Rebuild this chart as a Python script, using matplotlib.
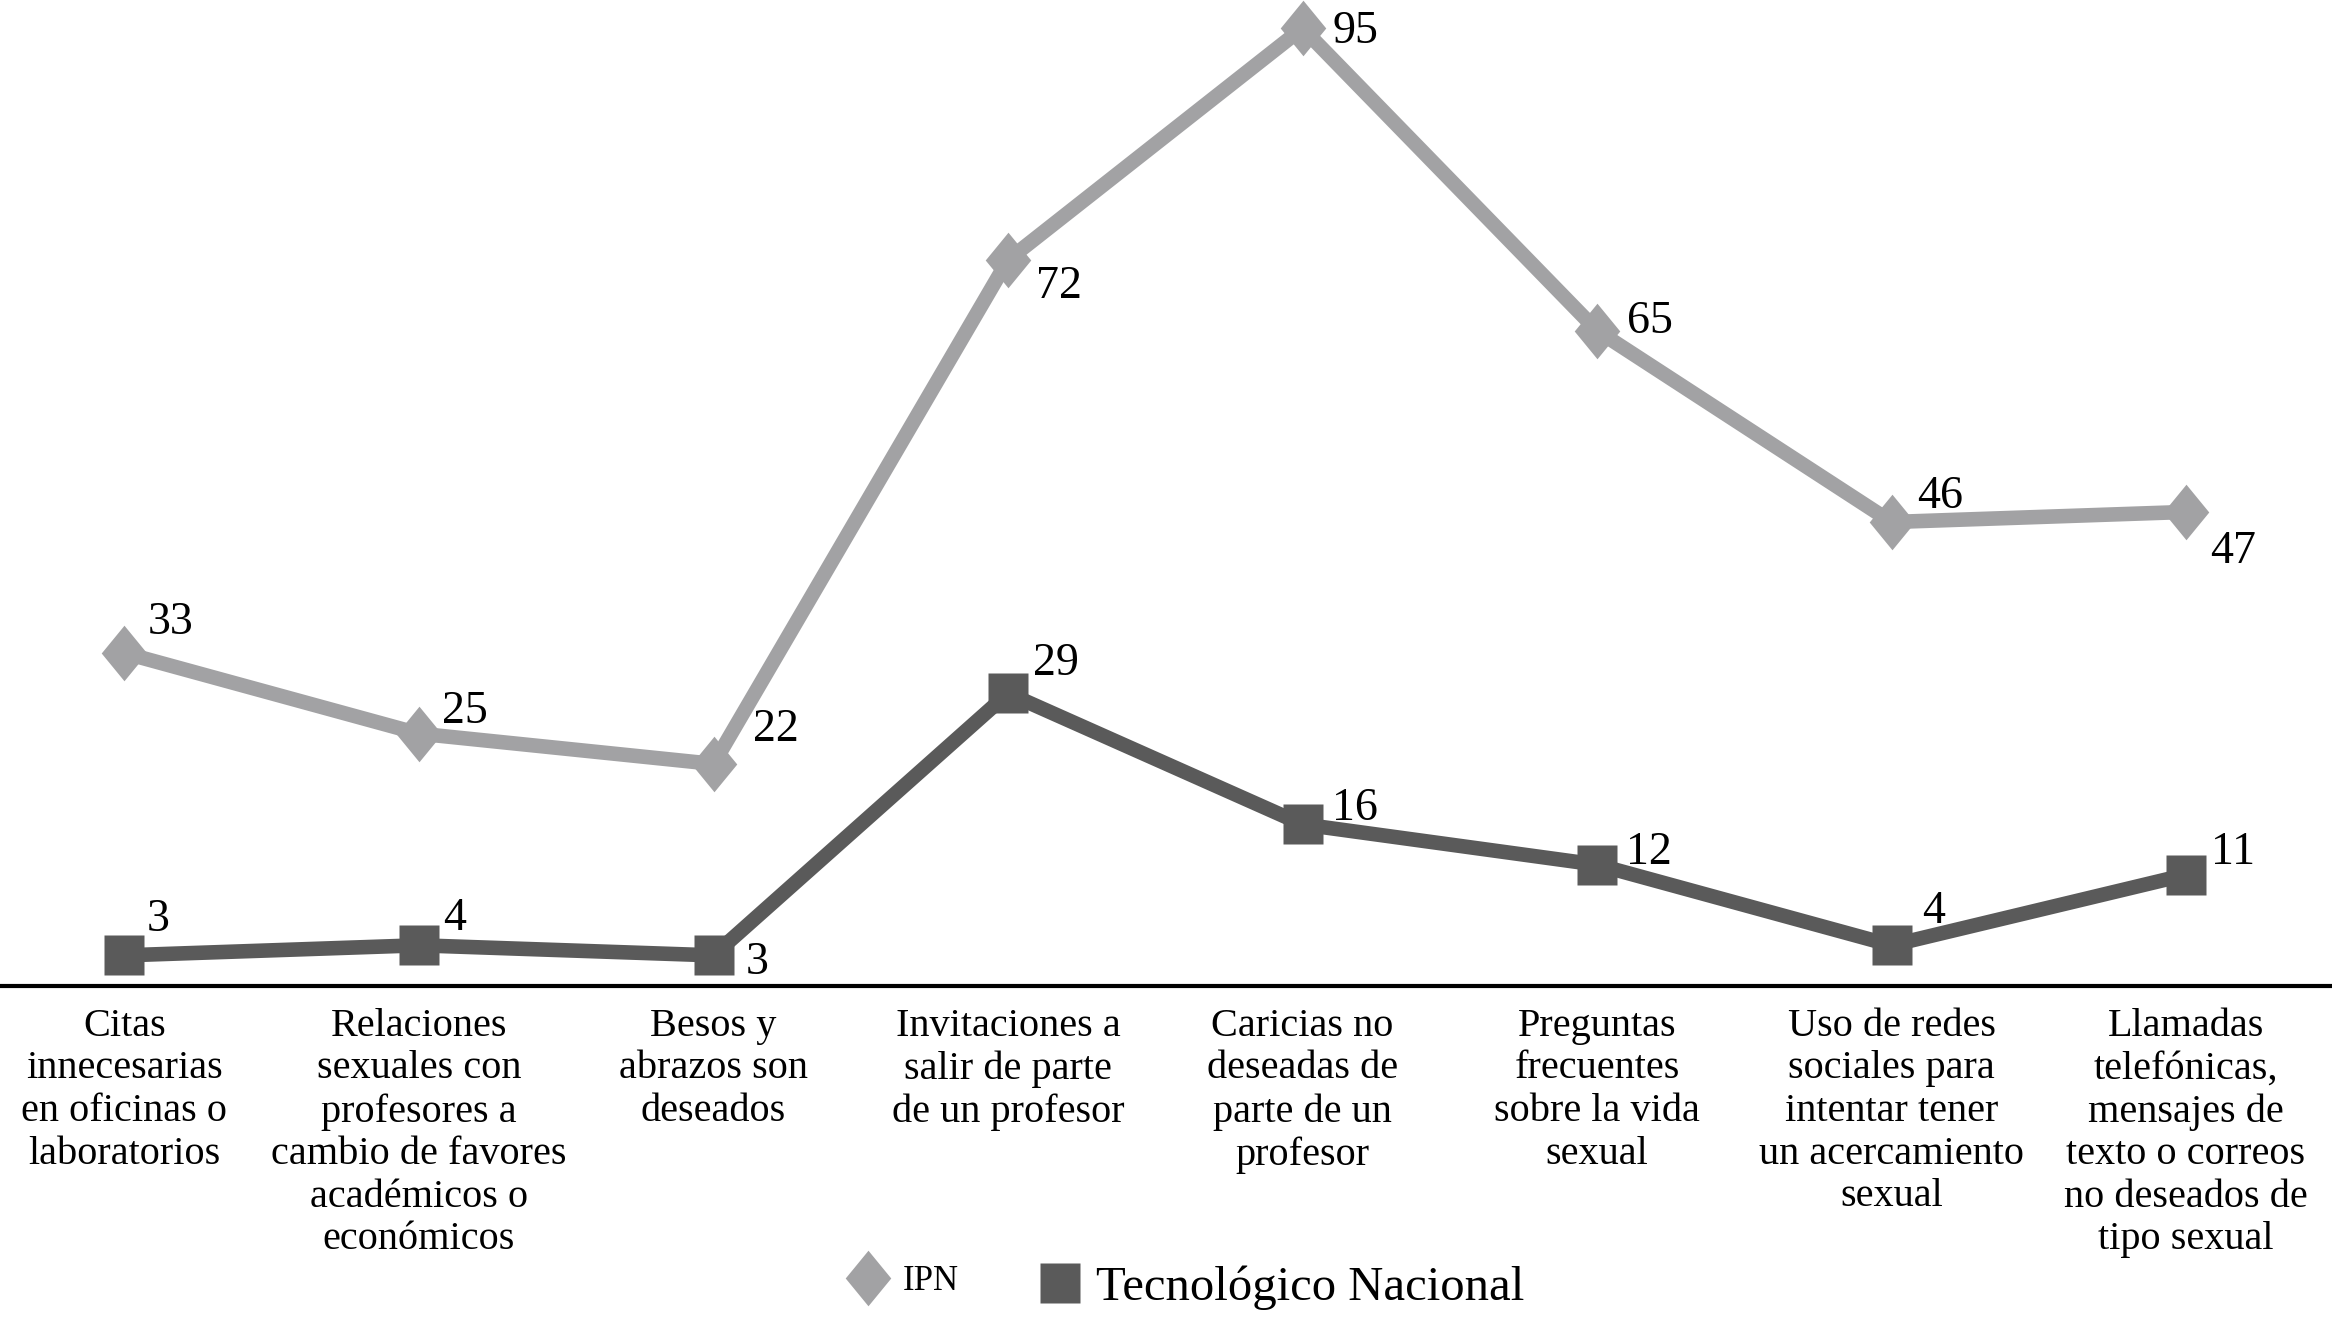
import matplotlib
matplotlib.use("Agg")
import matplotlib.pyplot as plt
from matplotlib.path import Path
from matplotlib.lines import Line2D

# ---- data ----
categories = [
    "Citas\ninnecesarias\nen oficinas o\nlaboratorios",
    "Relaciones\nsexuales con\nprofesores a\ncambio de favores\nacadémicos o\neconómicos",
    "Besos y\nabrazos son\ndeseados",
    "Invitaciones a\nsalir de parte\nde un profesor",
    "Caricias no\ndeseadas de\nparte de un\nprofesor",
    "Preguntas\nfrecuentes\nsobre la vida\nsexual",
    "Uso de redes\nsociales para\nintentar tener\nun acercamiento\nsexual",
    "Llamadas\ntelefónicas,\nmensajes de\ntexto o correos\nno deseados de\ntipo sexual",
]
ipn = [33, 25, 22, 72, 95, 65, 46, 47]
tec = [3, 4, 3, 29, 16, 12, 4, 11]
series_names = ["IPN", "Tecnológico Nacional"]

# ---- label placement (screen pixels, ink centre relative to marker) ----
ipn_off = [(46, -35), (46, -27), (62, -39), (51, 22), (53, -1), (53, -14), (49, -30), (47, 35)]
tec_off = [(34, -40), (36, -31), (44, 3), (48, -34), (52, -20), (52, -17), (42, -38), (47, -27)]

FONT = "Liberation Serif"
plt.rcParams["font.family"] = [FONT, "DejaVu Serif"]

C_IPN = "#A2A2A4"
C_TEC = "#5A5A5A"

diamond = Path([(0, 1), (0.82, 0), (0, -1), (-0.82, 0), (0, 1)],
               [Path.MOVETO, Path.LINETO, Path.LINETO, Path.LINETO, Path.CLOSEPOLY])

W, H = 2332, 1319
fig = plt.figure(figsize=(W / 100, H / 100), dpi=100)
ax = fig.add_axes([0, (H - 985.6) / H, 1, 985.6 / H])

x = list(range(len(categories)))
ax.plot(x, ipn, color=C_IPN, lw=10.5, marker=diamond, ms=40, mec="none",
        mfc=C_IPN, clip_on=False, zorder=3)
ax.plot(x, tec, color=C_TEC, lw=10.5, marker="s", ms=29.5, mec="none",
        mfc=C_TEC, clip_on=False, zorder=3)

ax.set_xlim(-124.5 / 294.5, (W - 124.5) / 294.5)
ax.set_ylim(0, 97.8)

for vals, offs in ((ipn, ipn_off), (tec, tec_off)):
    for xi, v, (dx, dy) in zip(x, vals, offs):
        ax.annotate(str(v), (xi, v), xytext=(dx, -(dy + 16)),
                    textcoords="offset pixels", ha="center", va="baseline",
                    fontsize=33, color="black", annotation_clip=False, zorder=5)

for s in ["top", "left", "right"]:
    ax.spines[s].set_visible(False)
ax.spines["bottom"].set_linewidth(3)
ax.spines["bottom"].set_color("black")
ax.set_yticks([])
ax.set_xticks(x)
ax.set_xticklabels(categories, fontsize=29)
ax.tick_params(axis="x", length=0, pad=16)
for t in ax.get_xticklabels():
    t.set_linespacing(1.2)
ax.patch.set_alpha(0)

# ---- legend ----
h1 = Line2D([], [], marker=diamond, ms=40, color=C_IPN, mec="none", ls="none")
h2 = Line2D([], [], marker="s", ms=29.5, color=C_TEC, mec="none", ls="none")
fig.legend([h1], [series_names[0]], loc="center left",
           bbox_to_anchor=(840 / W, 1 - 1282 / H), frameon=False,
           fontsize=25, handlelength=1.6, handletextpad=0.2,
           borderpad=0, borderaxespad=0)
fig.legend([h2], [series_names[1]], loc="center left",
           bbox_to_anchor=(1035.7 / W, 1 - 1288 / H), frameon=False,
           fontsize=35, handlelength=1.0, handletextpad=0.24,
           borderpad=0, borderaxespad=0)

fig.savefig("out.png", dpi=100, facecolor="white")
